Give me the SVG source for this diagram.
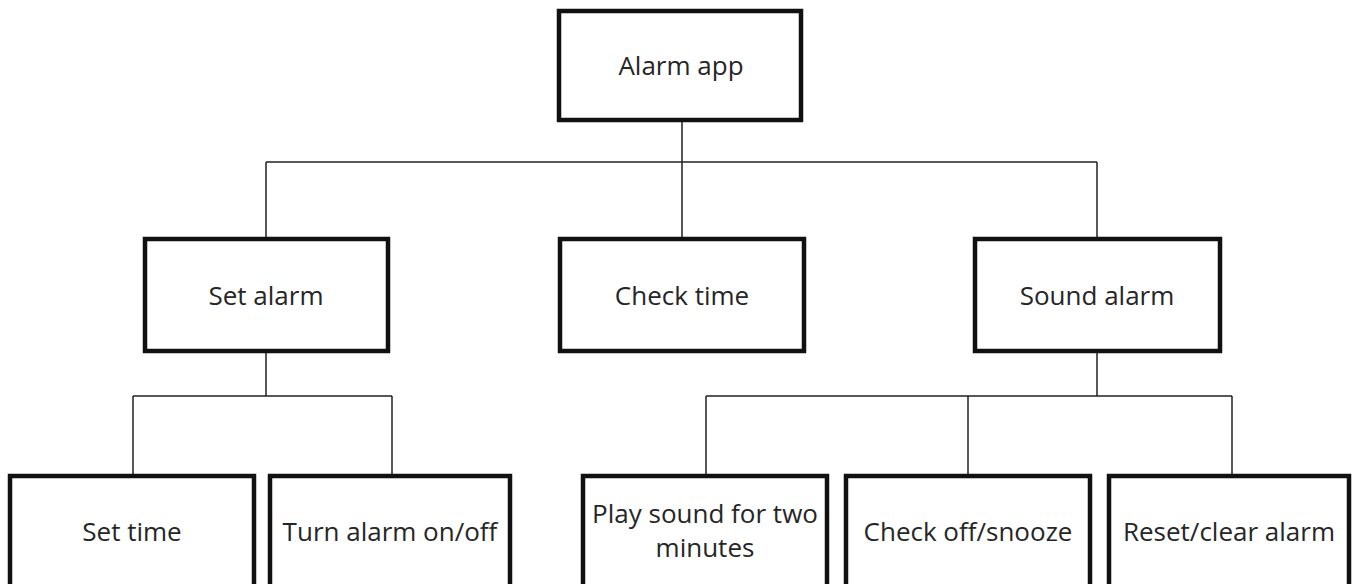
<svg xmlns="http://www.w3.org/2000/svg" width="1354" height="584" viewBox="0 0 1354 584">
<style>
.box{fill:#fff;stroke:#111;stroke-width:4.5}
.lbl{font-family:"Open Sans","Noto Sans",sans-serif;font-size:26px;fill:#262626;text-anchor:middle}
.conn{fill:none;stroke:#222;stroke-width:1.5}
</style>
<rect width="1354" height="584" fill="#fff"/>
<g id="connectors" class="conn">
<path d="M682 122V162M266 162H1097M266 162V237M682 162V237M1097 162V237"/>
<path d="M266 353V396M133 396H392M133 396V474M392 396V474"/>
<path d="M1097 353V396M706 396H1232M706 396V474M968 396V474M1232 396V474"/>
</g>
<g id="alarm-app"><rect class="box" x="559" y="11" width="242" height="109"/><text class="lbl" x="681" y="75">Alarm app</text></g>
<g id="set-alarm"><rect class="box" x="145" y="239" width="243" height="112"/><text class="lbl" x="266" y="305">Set alarm</text></g>
<g id="check-time"><rect class="box" x="560" y="239" width="244" height="112"/><text class="lbl" x="682" y="305">Check time</text></g>
<g id="sound-alarm"><rect class="box" x="975" y="239" width="245" height="112"/><text class="lbl" x="1097" y="305">Sound alarm</text></g>
<g id="set-time"><rect class="box" x="10" y="476" width="244" height="200"/><text class="lbl" x="132" y="541">Set time</text></g>
<g id="turn-alarm"><rect class="box" x="270" y="476" width="240" height="200"/><text class="lbl" x="390" y="541">Turn alarm on/off</text></g>
<g id="play-sound"><rect class="box" x="583" y="476" width="244" height="200"/><text class="lbl" x="705" y="523">Play sound for two</text><text class="lbl" x="705" y="557">minutes</text></g>
<g id="check-off"><rect class="box" x="846" y="476" width="244" height="200"/><text class="lbl" x="968" y="541">Check off/snooze</text></g>
<g id="reset-clear"><rect class="box" x="1109" y="476" width="240" height="200"/><text class="lbl" x="1229" y="541">Reset/clear alarm</text></g>
</svg>
